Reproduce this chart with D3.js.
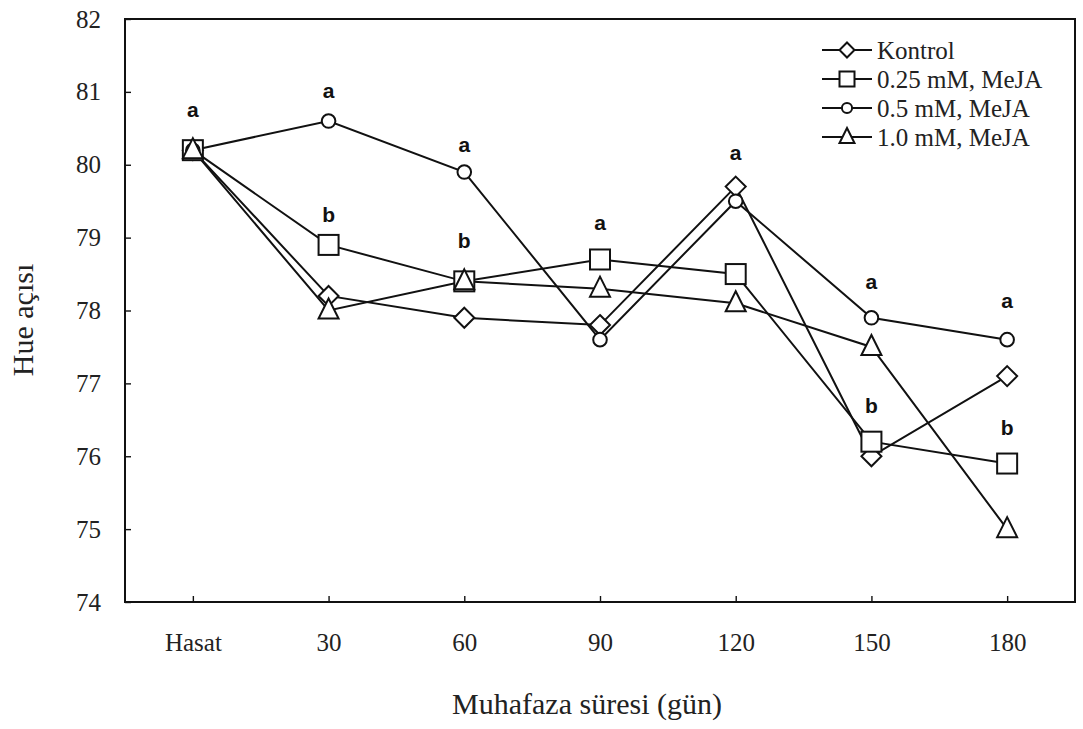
<!DOCTYPE html>
<html>
<head>
<meta charset="utf-8">
<script src="https://cdn.jsdelivr.net/npm/d3@7"></script>
<style>
  body { margin: 0; background: #fff; }
</style>
</head>
<body>
<div id="chart"></div>
<script>
// x categories
var days = ["Hasat", "30", "60", "90", "120", "150", "180"];

// series values (Hue angle)
var kontrol = [80.2, 78.2, 77.9, 77.8, 79.7, 76.0, 77.1];
var meja025 = [80.2, 78.9, 78.4, 78.7, 78.5, 76.2, 75.9];
var meja05  = [80.2, 80.6, 79.9, 77.6, 79.5, 77.9, 77.6];
var meja10  = [80.2, 78.0, 78.4, 78.3, 78.1, 77.5, 75.0];

var seriesNames = ["Kontrol", "0.25 mM, MeJA", "0.5 mM, MeJA", "1.0 mM, MeJA"];
var yTicks = [74, 75, 76, 77, 78, 79, 80, 81, 82];

// significance letters: category, letter, y-level (data units)
var letterDay = ["Hasat", "30", "30", "60", "60", "90", "120", "150", "150", "180", "180"];
var letterTxt = ["a", "a", "b", "a", "b", "a", "a", "a", "b", "a", "b"];
var letterVal = [80.75, 81.02, 79.31, 80.27, 78.96, 79.21, 80.17, 78.4, 76.69, 78.14, 76.39];

var serif = "'Liberation Serif', 'Times New Roman', serif";
var sans = "'Liberation Sans', Arial, sans-serif";

var width = 1083, height = 729;
var margin = { top: 19, right: 8, bottom: 127, left: 125 };

var svg = d3.select("#chart").append("svg")
    .attr("width", width)
    .attr("height", height);

var x = d3.scalePoint()
    .domain(days)
    .range([margin.left, width - margin.right])
    .padding(0.5);

var y = d3.scaleLinear()
    .domain([74, 82])
    .range([height - margin.bottom, margin.top]);

// frame
svg.append("rect")
    .attr("x", margin.left)
    .attr("y", margin.top)
    .attr("width", width - margin.right - margin.left)
    .attr("height", height - margin.bottom - margin.top)
    .attr("fill", "none")
    .attr("stroke", "#111")
    .attr("stroke-width", 2);

// y axis, inside ticks
var yAxis = svg.append("g")
    .attr("transform", `translate(${margin.left},0)`)
    .call(d3.axisRight(y).tickValues(yTicks).tickSize(6).tickSizeOuter(0).tickFormat(d3.format("d")));
yAxis.select(".domain").remove();
yAxis.selectAll("line").attr("stroke", "#111").attr("stroke-width", 1.4);
yAxis.selectAll("text")
    .attr("x", -24)
    .attr("text-anchor", "end")
    .style("font-family", serif)
    .style("font-size", "25px")
    .attr("fill", "#222");

// x axis, inside ticks
var xAxis = svg.append("g")
    .attr("transform", `translate(0,${height - margin.bottom})`)
    .call(d3.axisTop(x).tickSize(6).tickSizeOuter(0));
xAxis.select(".domain").remove();
xAxis.selectAll("line").attr("stroke", "#111").attr("stroke-width", 1.4);
xAxis.selectAll("text")
    .attr("y", 49)
    .attr("dy", 0)
    .style("font-family", serif)
    .style("font-size", "25px")
    .attr("fill", "#222");

// axis titles
svg.append("text")
    .attr("transform", "translate(33,320) rotate(-90)")
    .attr("text-anchor", "middle")
    .style("font-family", serif)
    .style("font-size", "30px")
    .attr("fill", "#222")
    .text("Hue açısı");

svg.append("text")
    .attr("x", 587)
    .attr("y", 714)
    .attr("text-anchor", "middle")
    .style("font-family", serif)
    .style("font-size", "30px")
    .attr("fill", "#222")
    .text("Muhafaza süresi (gün)");

var line = d3.line()
    .x(function (d, i) { return x(days[i]) })
    .y(function (d) { return y(d) });

var allSeries = [kontrol, meja025, meja05, meja10];
var shapes = ["diamond", "square", "circle", "triangle"];

function drawMarker(g, shape, cx, cy, s) {
    var m;
    if (shape == "diamond") {
        m = g.append("path")
            .attr("d", `M${cx},${cy - s * 0.5}L${cx + s * 0.5},${cy}L${cx},${cy + s * 0.5}L${cx - s * 0.5},${cy}Z`);
    } else if (shape == "square") {
        m = g.append("rect")
            .attr("x", cx - s / 2).attr("y", cy - s / 2)
            .attr("width", s).attr("height", s);
    } else if (shape == "circle") {
        m = g.append("circle")
            .attr("cx", cx).attr("cy", cy).attr("r", s * 0.34);
    } else {
        m = g.append("path")
            .attr("d", `M${cx},${cy - s * 0.6}L${cx + s * 0.5},${cy + s * 0.4}L${cx - s * 0.5},${cy + s * 0.4}Z`);
    }
    m.attr("fill", "#fff").attr("stroke", "#111").attr("stroke-width", 2);
}

// lines first, then markers on top
for (var k = 0; k < allSeries.length; k++) {
    svg.append("path")
        .datum(allSeries[k])
        .attr("fill", "none")
        .attr("stroke", "#111")
        .attr("stroke-width", 2)
        .attr("d", line);
}
for (var k = 0; k < allSeries.length; k++) {
    var g = svg.append("g");
    for (var i = 0; i < days.length; i++) {
        drawMarker(g, shapes[k], x(days[i]), y(allSeries[k][i]), 20);
    }
}

// significance letters
for (var i = 0; i < letterTxt.length; i++) {
    svg.append("text")
        .attr("x", x(letterDay[i]))
        .attr("y", y(letterVal[i]))
        .attr("dy", "0.35em")
        .attr("text-anchor", "middle")
        .style("font-family", sans)
        .style("font-weight", "bold")
        .style("font-size", "21px")
        .attr("fill", "#111")
        .text(letterTxt[i]);
}

// legend
var legend = svg.append("g");
for (var k = 0; k < seriesNames.length; k++) {
    var ly = 50 + k * 29;
    legend.append("line")
        .attr("x1", 822).attr("x2", 872)
        .attr("y1", ly).attr("y2", ly)
        .attr("stroke", "#111").attr("stroke-width", 2);
    drawMarker(legend, shapes[k], 847, ly, 15);
    legend.append("text")
        .attr("x", 877)
        .attr("y", ly)
        .attr("dy", "0.35em")
        .style("font-family", serif)
        .style("font-size", "25px")
        .attr("fill", "#222")
        .text(seriesNames[k]);
}
</script>
</body>
</html>
